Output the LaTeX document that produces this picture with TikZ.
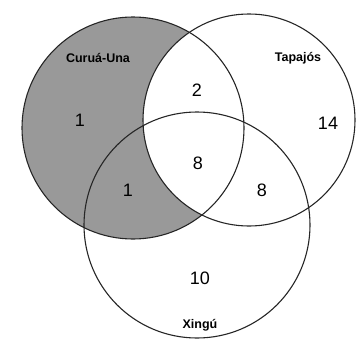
\documentclass[tikz,border=0pt]{standalone}
\usepackage{fontspec}
\setmainfont{Liberation Sans}

\begin{document}
\begin{tikzpicture}[x=1pt, y=-1pt,
    ring/.style={line width=1.1pt, draw=black!85},
    count/.style={font=\fontsize{18}{18}\selectfont},
    river/.style={font=\fontsize{12.5}{12.5}\selectfont\bfseries}]
  \useasboundingbox (0,0) rectangle (356,340);
  \coordinate (cu) at (133,128);
  \coordinate (ta) at (249,120);
  \coordinate (xi) at (197,225);
  % Curua-Una outside Tapajos is shaded
  \begin{scope}
    \clip (cu) circle (111);
    \fill[black!40, even odd rule] (cu) circle (111) (ta) circle (106);
  \end{scope}
  \draw[ring] (cu) circle (111);
  \draw[ring] (ta) circle (106);
  \draw[ring] (xi) circle (113);

  \node[river] (lcu) at (98,58) {Curuá-Una};
  \node[river] (lta) at (298,58) {Tapajós};
  \node[river] (lxi) at (200,325) {Xingú};

  \node[count] (nc) at (80,120) {1};
  \node[count] (nct) at (197,90) {2};
  \node[count] (nt) at (328,123) {14};
  \node[count] (nctx) at (198,163) {8};
  \node[count] (ncx) at (128,190) {1};
  \node[count] (ntx) at (262,190) {8};
  \node[count] (nx) at (200,278) {10};
\end{tikzpicture}
\end{document}
